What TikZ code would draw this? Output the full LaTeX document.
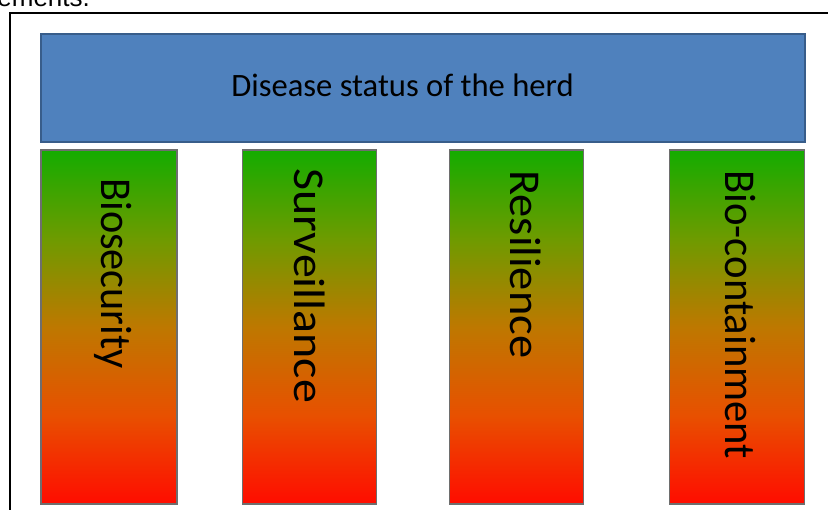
\documentclass[tikz,border=0pt]{standalone}
\usepackage{fontspec}
\usepackage{graphicx}
\setmainfont{Carlito}
\newfontfamily\arialfont{Liberation Sans}
\definecolor{herdblue}{RGB}{79,129,189}
\definecolor{herdedge}{RGB}{56,93,138}
\definecolor{baredge}{RGB}{110,110,110}
\definecolor{gA}{RGB}{20,172,0}
\definecolor{gB}{RGB}{110,155,0}
\definecolor{gC}{RGB}{190,120,0}
\definecolor{gD}{RGB}{232,80,0}
\definecolor{gE}{RGB}{255,12,0}
\pgfdeclareverticalshading{barshade}{100bp}{color(0bp)=(gE); color(25bp)=(gE); color(37.5bp)=(gD); color(50bp)=(gC); color(62.5bp)=(gB); color(75bp)=(gA); color(100bp)=(gA)}
\tikzset{
  herdbox/.style={draw=herdedge, line width=0.6pt, fill=herdblue, rectangle, inner sep=0pt},
  pillar/.style={draw=baredge, line width=0.6pt, rectangle, inner sep=0pt, shading=barshade},
  pillartext/.style={rotate=-90, anchor=base west, inner sep=0pt, font=\fontsize{22}{26}\selectfont},
  herdtext/.style={anchor=base, inner sep=0pt, font=\fontsize{16.3}{20}\selectfont},
}
\begin{document}
\begin{tikzpicture}[x=0.5pt, y=-0.5pt]
\useasboundingbox (0,0) rectangle (828,509);
\clip (0,0) rectangle (828,509);
\fill[white] (0,0) rectangle (828,509);
% cut-off caption text above the frame
\node[anchor=base west, inner sep=0pt, font=\arialfont\fontsize{13}{15}\selectfont] (caption) at (-3,6) {ements.};
% frame
\draw[line width=1pt] (9.5,530) -- (9.5,12.5) -- (850,12.5);
% top box
\node[herdbox, minimum width=382pt, minimum height=54pt] (herd) at (423,88) {};
\node[herdtext] (herdlabel) at (402.5,96) {Disease status of the herd};
% pillars
\node[pillar, minimum width=68pt, minimum height=177pt] (bio) at (109,327) {};
\node[pillar, minimum width=67pt, minimum height=177pt] (surv) at (309.5,327) {};
\node[pillar, minimum width=67pt, minimum height=177pt] (res) at (516.5,327) {};
\node[pillar, minimum width=67.5pt, minimum height=177pt] (cont) at (737,327) {};
\node[pillartext] (biot) at (101,178) {\scalebox{0.96}[1]{Biosecurity}};
\node[pillartext] (survt) at (294,168) {\scalebox{1.09}[1]{Surveillance}};
\node[pillartext] (rest) at (510,170) {\scalebox{1.055}[1]{Resilience}};
\node[pillartext] (contt) at (725,170) {\scalebox{0.97}[1]{Bio-containment}};
\end{tikzpicture}
\end{document}
